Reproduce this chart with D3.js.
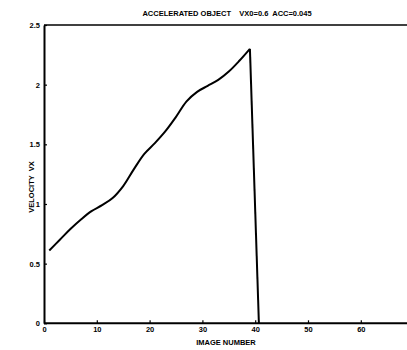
<!DOCTYPE html>
<html><head><meta charset="utf-8">
<script src="https://cdn.jsdelivr.net/npm/d3@7"></script>
<style>body{margin:0;background:#fff}svg{display:block}text{font-family:"Liberation Sans",Arial,sans-serif;font-weight:bold;fill:#000}</style>
</head><body><svg id="c" width="407" height="350"></svg>
<script>
const imageNumber = [1, 3, 5, 7, 9, 11, 13, 15, 17, 19, 21, 23, 25, 27, 29, 31, 33, 35, 37, 39, 40.7];
const velocityVx  = [0.61, 0.70, 0.79, 0.87, 0.94, 0.99, 1.05, 1.15, 1.29, 1.42, 1.51, 1.61, 1.73, 1.86, 1.94, 1.99, 2.04, 2.11, 2.20, 2.30, 0];
const xTicks = [0, 10, 20, 30, 40, 50, 60];
const yTicks = [0, 0.5, 1, 1.5, 2, 2.5];
const yTickLabels = ["0", "0.5", "1", "1.5", "2", "2.5"];
const title = "ACCELERATED OBJECT    VX0=0.6  ACC=0.045";
const xLabel = "IMAGE NUMBER";
const yLabel = "VELOCITY  VX";

const svg = d3.select("#c");
const x = d3.scaleLinear().domain([0, 70]).range([44, 413.6]);
const y = d3.scaleLinear().domain([0, 2.5]).range([323.3, 25]);

// frame
svg.append("line").attr("x1", x(0)).attr("x2", 407).attr("y1", y(2.5)).attr("y2", y(2.5)).attr("stroke", "#000").attr("stroke-width", 1.3);

const xAxis = svg.append("g").attr("transform", `translate(0,${y(0)})`)
  .call(d3.axisBottom(x).tickValues(xTicks).tickSizeInner(-3).tickSizeOuter(0).tickPadding(3).tickFormat(d3.format("d")));
xAxis.select(".domain").attr("stroke-width", 2).attr("d", `M${x(0)},0H407`);
xAxis.selectAll("line").attr("stroke-width", 1.2);
xAxis.selectAll("text").attr("font-size", 7.5);

const yAxis = svg.append("g").attr("transform", `translate(${x(0)},0)`)
  .call(d3.axisLeft(y).tickValues(yTicks).tickSizeInner(-3).tickSizeOuter(0).tickPadding(4).tickFormat((d,i) => yTickLabels[i]));
yAxis.select(".domain").attr("stroke-width", 2);
yAxis.selectAll("line").attr("stroke-width", 1.2);
yAxis.selectAll("text").attr("font-size", 7.5);

const data = imageNumber.map((d, i) => [d, velocityVx[i]]);
const n = data.length;
svg.append("path").datum(data.slice(0, n - 1))
  .attr("fill", "none").attr("stroke", "#000").attr("stroke-width", 2).attr("stroke-linejoin", "round")
  .attr("d", d3.line().x(d => x(d[0])).y(d => y(d[1])).curve(d3.curveCatmullRom.alpha(0.5)));
svg.append("path").datum(data.slice(n - 2))
  .attr("fill", "none").attr("stroke", "#000").attr("stroke-width", 2)
  .attr("d", d3.line().x(d => x(d[0])).y(d => y(d[1])));

svg.append("text").attr("x", 227).attr("y", 16).attr("text-anchor", "middle").attr("font-size", 7.5).style("white-space", "pre").text(title);
svg.append("text").attr("x", 226).attr("y", 345).attr("text-anchor", "middle").attr("font-size", 7.5).text(xLabel);
svg.append("text").attr("transform", "translate(34,187) rotate(-90)").attr("text-anchor", "middle").attr("font-size", 7.5).style("white-space", "pre").text(yLabel);
</script></body></html>
